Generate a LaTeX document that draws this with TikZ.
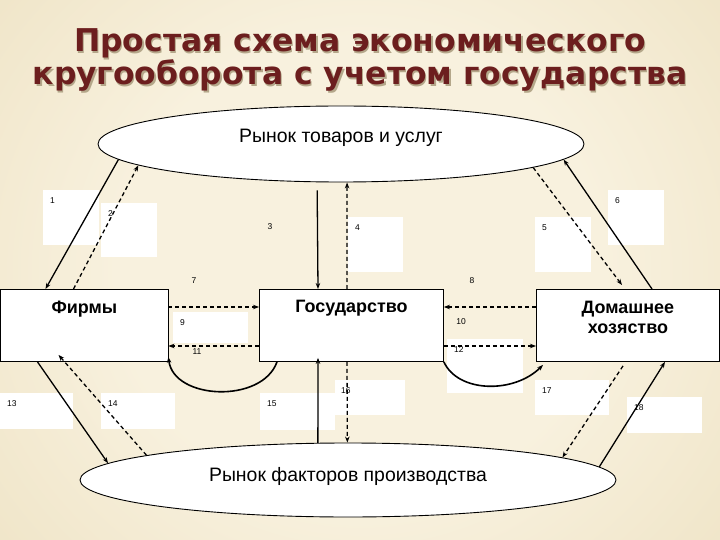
\documentclass[tikz,border=0pt]{standalone}
\usepackage{fontspec}
\setmainfont{Liberation Sans}
\newfontfamily\headfont{DejaVu Sans}
\usetikzlibrary{shapes.geometric}
\usetikzlibrary{arrows.meta}
\usetikzlibrary{calc}

\definecolor{bginner}{RGB}{248,241,222}
\definecolor{bgmid}{RGB}{237,225,193}
\definecolor{bgouter}{RGB}{199,186,148}
\definecolor{titlered}{RGB}{108,30,30}
\definecolor{titleshade}{RGB}{180,167,138}

\pgfdeclareradialshading{slidebg}{\pgfpoint{0bp}{0bp}}{color(0bp)=(bginner); color(16bp)=(bginner); color(36bp)=(bgmid); color(50bp)=(bgouter); color(100bp)=(bgouter)}

\tikzset{
  market/.style={ellipse, draw, fill=white, line width=0.9bp, inner sep=0pt,
    font=\fontsize{19.5}{22}\selectfont},
  agent/.style={draw, fill=white, line width=0.9bp, inner sep=0pt, anchor=north west,
    align=center, font=\bfseries\fontsize{18}{20}\selectfont},
  numbox/.style={fill=white, inner xsep=7bp, inner ysep=0pt, text height=13bp,
    align=left, anchor=north west, font=\fontsize{8.5}{10}\selectfont},
  num/.style={inner sep=0pt, font=\fontsize{8.5}{10}\selectfont},
  titletext/.style={anchor=base, inner sep=0pt, text=titlered,
    font=\headfont\bfseries\fontsize{31.5}{34}\selectfont},
  flow/.style={line width=1.3bp, -{Stealth[length=6bp,width=4.5bp]}},
  flowd/.style={flow, dash pattern=on 4bp off 3bp},
  arc/.style={line width=1.6bp, -{Stealth[length=6bp,width=4.5bp]}}
}

\begin{document}
\begin{tikzpicture}[x=1bp, y=-1bp]
  \useasboundingbox (0,0) rectangle (720,540);
  \shade[shading=slidebg] (-20,-90) rectangle (740,630);

  % Title
  \node[titletext, text=titleshade] (t1s) at (361.5,53.5) {Простая схема экономического};
  \node[titletext] (t1) at (360,52) {Простая схема экономического};
  \node[titletext, text=titleshade] (t2s) at (361.5,86.5) {кругооборота с учетом государства};
  \node[titletext] (t2) at (360,85) {кругооборота с учетом государства};

  % Label boxes
  \node[numbox, text width=42bp, text depth=42bp] (n1) at (43,190) {1};
  \node[numbox, text width=42bp, text depth=41bp] (n2) at (101,203) {2};
  \node[numbox, text width=41bp, text depth=42bp] (n4) at (348,217) {4};
  \node[numbox, text width=42bp, text depth=42bp] (n5) at (535,217) {5};
  \node[numbox, text width=42bp, text depth=42bp] (n6) at (608,190) {6};
  \node[numbox, text width=61bp, text depth=18bp] (n9) at (173,312) {9};
  \node[numbox, text width=62bp, text depth=41bp] (n12) at (447,339) {12};
  \node[numbox, text width=59bp, text depth=23bp] (n13) at (0,393) {13};
  \node[numbox, text width=60bp, text depth=23bp] (n14) at (101,393) {14};
  \node[numbox, text width=61bp, text depth=24bp] (n15) at (260,393) {15};
  \node[numbox, text width=58bp, text depth=22bp, inner xsep=6bp] (n16) at (335,380) {16};
  \node[numbox, text width=60bp, text depth=22bp] (n17) at (535,380) {17};
  \node[numbox, text width=61bp, text depth=23bp] (n18) at (627,397) {18};
  \node[num] (n3) at (270,227) {3};
  \node[num] (n7) at (194,281) {7};
  \node[num] (n8) at (472,281) {8};
  \node[num] (n10) at (461,322) {10};
  \node[num] (n11) at (197,352) {11};

  % Markets
  \node[market, minimum width=486bp, minimum height=76bp, text height=14bp, text depth=16bp]
    (goods) at (341,144) {Рынок товаров и услуг};
  \node[market, minimum width=536bp, minimum height=74bp, text height=14bp, text depth=12bp]
    (factors) at (348,480) {Рынок факторов производства};

  % Agents
  \node[agent, minimum width=167bp, text height=24bp, text depth=48bp] (firms) at (0.5,289) {Фирмы};
  \node[agent, minimum width=184bp, text height=23bp, text depth=49bp] (gov) at (259,289) {Государство};
  \node[agent, minimum width=183bp, text height=44bp, text depth=28bp] (home) at (536,289) {Домашнее\\хозяство};

  % Goods market flows
  \draw[flow] (goods.184.3) -- ([xshift=45bp]firms.north west);
  \draw[flowd] ([xshift=73bp]firms.north west) -- (goods.186.3);
  \draw[flow, shorten <=8bp] (goods.238.7) -- ([xshift=59bp]gov.north west);
  \draw[flowd] ([xshift=88bp]gov.north west) -- (goods.279);
  \draw[flowd] (goods.353.6) -- ([xshift=86bp,yshift=4bp]home.north west);
  \draw[flow] ([xshift=116bp]home.north west) -- (goods.356.2);

  % Flows with the state
  \draw[flowd] ([yshift=-18bp]firms.north east) -- ([yshift=-18bp]gov.north west);
  \draw[flowd] ([yshift=-18bp]home.north west) -- ([yshift=-18bp]gov.north east);
  \draw[flowd, line width=2bp] ([yshift=-57bp]gov.north west) -- ([yshift=-57bp]firms.north east);
  \draw[flowd] ([yshift=-57bp]gov.north east) -- ([yshift=-57bp]home.north west);
  \draw[arc] ([xshift=18bp]gov.south west) .. controls +(-15,42) and +(5,43) .. ([yshift=5bp]firms.south east);
  \draw[arc] (gov.south east) .. controls +(14,31) and +(-29,29) .. ([xshift=7bp,yshift=-3bp]home.south west);

  % Factor market flows
  \draw[flow] ([xshift=37bp]firms.south west) -- (factors.176.1);
  \draw[flowd] (factors.173.4) -- ([xshift=58bp,yshift=7bp]firms.south west);
  \draw[flow] (factors.129.2) -- ([xshift=59bp,yshift=4bp]gov.south west);
  \draw[flowd] ([xshift=88bp]gov.south west) -- (factors.91.5);
  \draw[flowd] ([xshift=87bp,yshift=-4bp]home.south west) -- (factors.6.1);
  \draw[flow] (factors.3.6) -- ([xshift=129bp]home.south west);
\end{tikzpicture}
\end{document}
